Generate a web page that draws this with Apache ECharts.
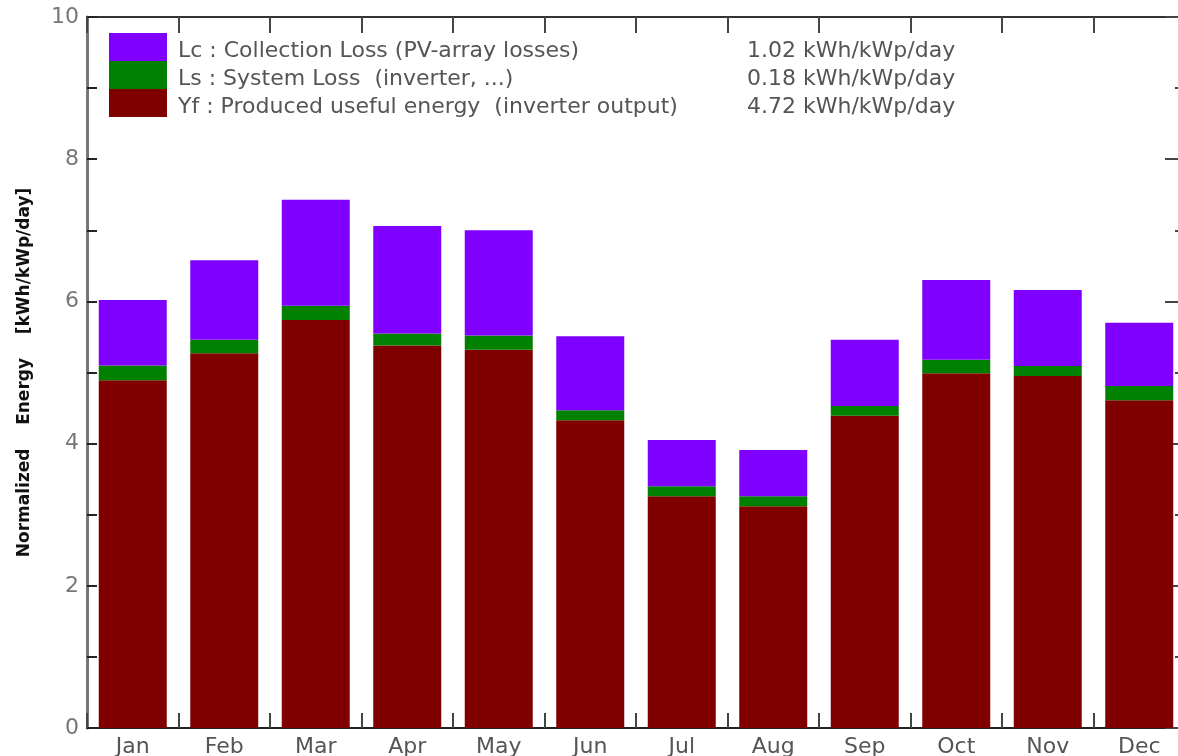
<!DOCTYPE html>
<html>
<head>
<meta charset="utf-8">
<script src="https://cdn.jsdelivr.net/npm/echarts@6/dist/echarts.min.js"></script>
<style>
html,body{margin:0;padding:0;background:#fff;}
#chart{width:1178px;height:756px;}
</style>
</head>
<body>
<div id="chart"></div>
<script>
const months = ['Jan','Feb','Mar','Apr','May','Jun','Jul','Aug','Sep','Oct','Nov','Dec'];
const yfValues = [4.89, 5.27, 5.74, 5.38, 5.32, 4.33, 3.26, 3.12, 4.39, 4.99, 4.95, 4.61];
const lsValues = [0.21, 0.19, 0.20, 0.17, 0.20, 0.14, 0.14, 0.14, 0.14, 0.19, 0.14, 0.20];
const lcValues = [0.92, 1.12, 1.49, 1.51, 1.48, 1.04, 0.65, 0.65, 0.93, 1.12, 1.07, 0.89];
const seriesNames = ['Lc : Collection Loss (PV-array losses)', 'Ls : System Loss  (inverter, ...)', 'Yf : Produced useful energy  (inverter output)'];
const legendValues = ['1.02 kWh/kWp/day', '0.18 kWh/kWp/day', '4.72 kWh/kWp/day'];
const yTicks = { min: 0, max: 10, interval: 2 };
const yAxisTitle = 'Normalized    Energy    [kWh/kWp/day]';

const FONT = 'DejaVu Sans';
const chart = echarts.init(document.getElementById('chart'), null, {renderer: 'canvas'});
const option = {
  animation: false,
  backgroundColor: '#fff',
  grid: { left: 87, width: 1098, top: 17, bottom: 28, containLabel: false, outerBoundsMode: 'none' },
  legend: {
    left: 109, top: 32, orient: 'vertical', padding: 0,
    itemWidth: 58, itemHeight: 28, itemGap: -2,
    icon: 'rect', selectedMode: false,
    data: seriesNames,
    formatter: function (name) {
      const i = seriesNames.indexOf(name);
      return '{n|' + name + '}{v|' + legendValues[i] + '}';
    },
    textStyle: {
      fontFamily: FONT, fontSize: 22, color: '#555', lineHeight: 18,
      rich: {
        n: { fontFamily: FONT, fontSize: 22, color: '#555', width: 569, lineHeight: 18, padding: [8, 0, 0, 6] },
        v: { fontFamily: FONT, fontSize: 22, color: '#555', lineHeight: 18, padding: [8, 0, 0, 0] }
      }
    }
  },
  xAxis: [
    {
      type: 'category', data: months, position: 'bottom',
      axisLine: { show: true, onZero: false, lineStyle: { color: '#222', width: 2 } },
      axisTick: { show: true, inside: true, length: 15, lineStyle: { color: '#444', width: 2 } },
      axisLabel: { fontFamily: FONT, fontSize: 22, color: '#555', margin: 8 }
    },
    {
      type: 'category', data: months, position: 'top',
      axisLine: { show: true, onZero: false, lineStyle: { color: '#333', width: 2 } },
      axisTick: { show: true, inside: true, length: 16, lineStyle: { color: '#444', width: 2 } },
      axisLabel: { show: false }
    }
  ],
  yAxis: [
    {
      type: 'value', position: 'left', min: yTicks.min, max: yTicks.max, interval: yTicks.interval,
      name: yAxisTitle, nameLocation: 'middle', nameRotate: 90, nameGap: 54,
      nameTextStyle: { fontFamily: FONT, fontSize: 17, fontWeight: 'bold', color: '#111' },
      axisLine: { show: true, onZero: false, lineStyle: { color: '#777', width: 3 } },
      axisTick: { show: true, inside: true, length: 10, lineStyle: { color: '#222', width: 2 } },
      minorTick: { show: true, splitNumber: 2, length: 10, lineStyle: { color: '#222', width: 2 } },
      splitLine: { show: false },
      axisLabel: { fontFamily: FONT, fontSize: 22, color: '#777', margin: 8 }
    },
    {
      type: 'value', position: 'right', min: yTicks.min, max: yTicks.max, interval: yTicks.interval,
      axisLine: { show: false, onZero: false },
      axisTick: { show: true, inside: true, length: 20, lineStyle: { color: '#444', width: 2 } },
      minorTick: { show: true, splitNumber: 2, length: 10, lineStyle: { color: '#444', width: 2 } },
      splitLine: { show: false },
      axisLabel: { show: false }
    }
  ],
  series: [
    { name: seriesNames[2], type: 'bar', stack: 'e', data: yfValues, barWidth: 68, itemStyle: { color: '#800000' } },
    { name: seriesNames[1], type: 'bar', stack: 'e', data: lsValues, barWidth: 68, itemStyle: { color: '#008000' } },
    { name: seriesNames[0], type: 'bar', stack: 'e', data: lcValues, barWidth: 68, itemStyle: { color: '#8000ff' } }
  ]
};
chart.setOption(option);
</script>
</body>
</html>
